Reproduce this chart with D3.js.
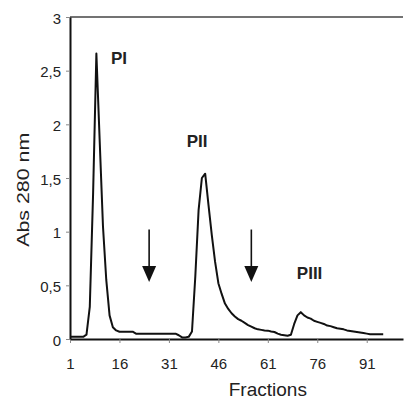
<!DOCTYPE html>
<html>
<head>
<meta charset="utf-8">
<script src="https://cdn.jsdelivr.net/npm/d3@7"></script>
<style>
  body { margin: 0; background: #fff; }
  text { font-family: "Liberation Sans", Arial, sans-serif; fill: #222; }
</style>
</head>
<body>
<div class="chart"></div>
<script>
// chart size matches the window
var svgWidth = 405;
var svgHeight = 399;

var margin = { top: 17, right: 2, bottom: 60, left: 70 };
var width = svgWidth - margin.left - margin.right;
var height = svgHeight - margin.top - margin.bottom;

// absorbance at 280 nm, fractions 1..96
var absorbance = [
  0.02, 0.02, 0.02, 0.02, 0.02, 0.04, 0.3, 1.35, 2.66, 1.85,
  1.05, 0.55, 0.22, 0.11, 0.08, 0.068, 0.068, 0.068, 0.068, 0.068,
  0.05, 0.05, 0.05, 0.05, 0.05, 0.05, 0.05, 0.05, 0.05, 0.05,
  0.05, 0.05, 0.05, 0.035, 0.015, 0.015, 0.02, 0.07, 0.58, 1.2,
  1.5, 1.54, 1.25, 0.97, 0.72, 0.52, 0.42, 0.33, 0.28, 0.24,
  0.21, 0.185, 0.17, 0.15, 0.13, 0.115, 0.1, 0.09, 0.085, 0.08,
  0.078, 0.07, 0.065, 0.05, 0.04, 0.035, 0.03, 0.04, 0.14, 0.22,
  0.25, 0.22, 0.2, 0.19, 0.17, 0.16, 0.15, 0.14, 0.125, 0.12,
  0.11, 0.1, 0.095, 0.09, 0.08, 0.075, 0.07, 0.065, 0.06, 0.055,
  0.05, 0.045, 0.045, 0.045, 0.045, 0.045
];

var xTicks = [1, 16, 31, 46, 61, 76, 91];
var yTicks = [0, 0.5, 1, 1.5, 2, 2.5, 3];
var yTickLabels = ["0", "0,5", "1", "1,5", "2", "2,5", "3"];

// peak names and where they sit (fraction, absorbance)
var peakNames = ["PI", "PII", "PIII"];
var peakFraction = [13.4, 36.4, 69.8];
var peakAbs = [2.56, 1.79, 0.556];

// buffer change arrows (fraction)
var arrowFractions = [25, 56];

var svg = d3.select(".chart")
  .append("svg")
  .attr("width", svgWidth)
  .attr("height", svgHeight);

var chartGroup = svg.append("g")
  .attr("transform", `translate(${margin.left}, ${margin.top})`);

var x = d3.scaleLinear().domain([1, 102]).range([0, width]);
var y = d3.scaleLinear().domain([0, 3]).range([height, 0]);

// top frame line
chartGroup.append("line")
  .attr("x1", 0).attr("x2", width)
  .attr("y1", 0).attr("y2", 0)
  .attr("stroke", "#444")
  .attr("stroke-width", 1.6);

// x axis
var xAxis = chartGroup.append("g")
  .attr("transform", `translate(0, ${height})`)
  .call(d3.axisBottom(x).tickValues(xTicks).tickSizeInner(4).tickSizeOuter(0).tickPadding(15));
xAxis.select(".domain").attr("stroke", "#111").attr("stroke-width", 2);
xAxis.selectAll(".tick line").attr("stroke", "#888");
xAxis.selectAll("text").style("font-size", "15px").attr("fill", "#222");

// y axis
var yAxis = chartGroup.append("g")
  .call(d3.axisLeft(y).tickValues(yTicks).tickSizeInner(4).tickSizeOuter(0).tickPadding(5)
    .tickFormat(function(d, i) { return yTickLabels[i]; }));
yAxis.select(".domain").attr("stroke", "#111").attr("stroke-width", 2);
yAxis.selectAll(".tick line").attr("stroke", "#888");
yAxis.selectAll("text").style("font-size", "15px").attr("fill", "#222").attr("dy", "0.42em");

// elution profile
var line = d3.line()
  .x(function(d, i) { return x(i + 1); })
  .y(function(d) { return y(d); });

chartGroup.append("path")
  .datum(absorbance)
  .attr("d", line)
  .attr("fill", "none")
  .attr("stroke", "#111")
  .attr("stroke-width", 2)
  .attr("stroke-linejoin", "round");

// arrows
var arrows = chartGroup.selectAll(".arrow")
  .data(arrowFractions)
  .enter()
  .append("g")
  .attr("class", "arrow");

arrows.append("line")
  .attr("x1", function(d) { return x(d); })
  .attr("x2", function(d) { return x(d); })
  .attr("y1", y(1.02))
  .attr("y2", y(0.66))
  .attr("stroke", "#111")
  .attr("stroke-width", 1.6);

arrows.append("path")
  .attr("d", function(d) {
    var cx = x(d), top = y(0.68), tip = y(0.53);
    return `M${cx - 7},${top}L${cx + 7},${top}L${cx},${tip}Z`;
  })
  .attr("fill", "#111");

// peak labels
chartGroup.selectAll(".peak")
  .data(peakNames)
  .enter()
  .append("text")
  .attr("class", "peak")
  .attr("x", function(d, i) { return x(peakFraction[i]); })
  .attr("y", function(d, i) { return y(peakAbs[i]); })
  .style("font-size", "17px")
  .style("font-weight", "bold")
  .attr("fill", "#111")
  .text(function(d) { return d; });

// axis titles
chartGroup.append("text")
  .attr("x", x(61))
  .attr("y", height + 57)
  .attr("text-anchor", "middle")
  .style("font-size", "19px")
  .text("Fractions");

chartGroup.append("text")
  .attr("transform", `translate(${28.5 - margin.left}, ${y(1.39)}) rotate(-90)`)
  .attr("text-anchor", "middle")
  .attr("textLength", 114)
  .attr("lengthAdjust", "spacingAndGlyphs")
  .style("font-size", "17px")
  .text("Abs 280 nm");
</script>
</body>
</html>
